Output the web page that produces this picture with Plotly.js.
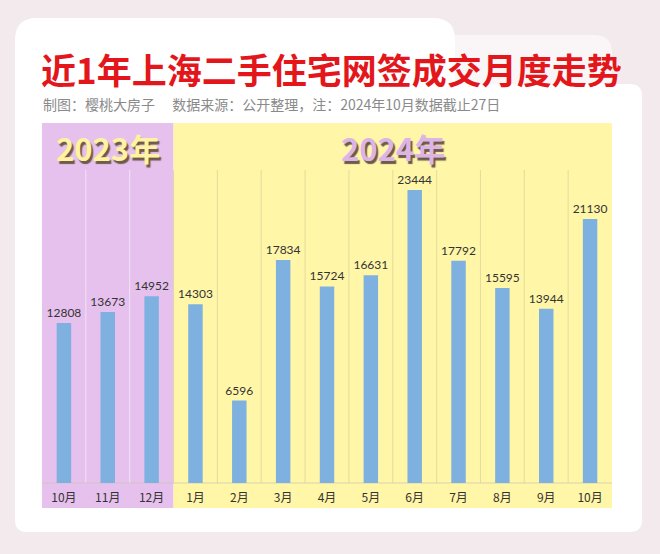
<!DOCTYPE html>
<html>
<head>
<meta charset="utf-8">
<script src="https://cdn.plot.ly/plotly-3.0.1.min.js"></script>
<style>
html,body{margin:0;padding:0;background:#f2eaec;}
#chart{width:660px;height:554px;}
</style>
</head>
<body>
<div id="chart"></div>
<script>
// ---- data ----
const months = ['10月','11月','12月','1月','2月','3月','4月','5月','6月','7月','8月','9月','10月'];
const monthKeys = ['2023-10','2023-11','2023-12','2024-01','2024-02','2024-03','2024-04','2024-05','2024-06','2024-07','2024-08','2024-09','2024-10'];
const deals = [12808, 13673, 14952, 14303, 6596, 17834, 15724, 16631, 23444, 17792, 15595, 13944, 21130];
const yearLabels = ['2023年', '2024年'];
const titleText = '近1年上海二手住宅网签成交月度走势';
const subtitleText = '制图：樱桃大房子　 数据来源：公开整理，注：2024年10月数据截止27日';

// ---- layout geometry (pixels) ----
const L = 42, T = 170, W = 570, H = 313;
const X = px => (px - L) / W;
const Y = py => (T + H - py) / H;
const colW = W / months.length;

function rr(x0, y0, x1, y1, r) {
  const p = (x, y) => X(x) + ',' + Y(y);
  return 'M' + p(x0 + r, y0) + ' L' + p(x1 - r, y0) + ' Q' + p(x1, y0) + ' ' + p(x1, y0 + r) +
    ' L' + p(x1, y1 - r) + ' Q' + p(x1, y1) + ' ' + p(x1 - r, y1) +
    ' L' + p(x0 + r, y1) + ' Q' + p(x0, y1) + ' ' + p(x0, y1 - r) +
    ' L' + p(x0, y0 + r) + ' Q' + p(x0, y0) + ' ' + p(x0 + r, y0) + ' Z';
}

const shapes = [];
// background cards
shapes.push({type:'path', xref:'paper', yref:'paper', path: rr(440, 35, 612, 120, 18), fillcolor:'#faf6f7', line:{width:0}, layer:'below'});
shapes.push({type:'path', xref:'paper', yref:'paper', path: rr(15, 18, 455, 200, 22), fillcolor:'#ffffff', line:{width:0}, layer:'below'});
shapes.push({type:'path', xref:'paper', yref:'paper', path: rr(15, 84, 642, 532, 12), fillcolor:'#ffffff', line:{width:0}, layer:'below'});
// year panels
const split = L + colW * 3;
shapes.push({type:'rect', xref:'paper', yref:'paper', x0: X(L), x1: X(split), y0: Y(508), y1: Y(123), fillcolor:'#e6c1ed', line:{width:0}, layer:'below'});
shapes.push({type:'rect', xref:'paper', yref:'paper', x0: X(split), x1: X(L + W), y0: Y(508), y1: Y(123), fillcolor:'#fff6a8', line:{width:0}, layer:'below'});
// column separators
for (let k = 1; k < months.length; k++) {
  const px = L + colW * k;
  shapes.push({type:'line', xref:'paper', yref:'paper', x0: X(px), x1: X(px), y0: 0, y1: 1,
    line:{color: k < 3 ? 'rgba(255,255,255,0.55)' : 'rgba(180,170,140,0.35)', width:1}, layer:'below'});
}
// baseline
shapes.push({type:'line', xref:'paper', yref:'paper', x0: 0, x1: 1, y0: 0, y1: 0, line:{color:'rgba(200,195,180,0.7)', width:1}, layer:'below'});

const annotations = [
  {xref:'paper', yref:'paper', x: X(39), y: Y(68), xanchor:'left', yanchor:'middle', showarrow:false,
   text:'<b>' + titleText + '</b>', font:{family:'Noto Sans CJK SC', size:35, color:'#e3161c'}},
  {xref:'paper', yref:'paper', x: X(41), y: Y(104), xanchor:'left', yanchor:'middle', showarrow:false,
   text: subtitleText, font:{family:'Noto Sans CJK SC', size:14, color:'#8a8a8a'}},
];
const yearPos = [[L + colW * 1.5, '#fff2a0'], [L + colW * 8, '#dcb5e6']];
yearLabels.forEach((t, i) => {
  const [cx, col] = yearPos[i];
  annotations.push({xref:'paper', yref:'paper', x: X(cx), y: Y(147), xanchor:'center', yanchor:'middle', showarrow:false,
    text:'<b>' + t + '</b>', font:{family:'Noto Sans CJK SC', size:31, color: col, shadow:'2px 3px 1px #6e5a4a'}});
});

const trace = {
  type:'bar',
  x: monthKeys,
  y: deals,
  width: 0.33,
  marker:{color:'#7eb0e0', line:{width:0}},
  text: deals.map(String),
  textposition:'outside',
  constraintext:'none',
  textfont:{family:'Lato, Carlito, sans-serif', size:12, color:'#333333'},
  cliponaxis:false,
  hoverinfo:'none'
};

const layout = {
  width:660, height:554,
  margin:{l:L, r:660 - L - W, t:T, b:554 - T - H, pad:0},
  paper_bgcolor:'#f2eaec',
  plot_bgcolor:'rgba(0,0,0,0)',
  showlegend:false,
  xaxis:{type:'category', tickvals: monthKeys, ticktext: months, range:[-0.5, months.length - 0.5],
    showgrid:false, zeroline:false, showline:false, ticks:'outside', ticklen:4, tickcolor:'rgba(0,0,0,0)',
    tickfont:{family:'Noto Sans CJK SC', size:12, color:'#333333'}, fixedrange:true},
  yaxis:{range:[0, 25045], visible:false, fixedrange:true},
  shapes: shapes,
  annotations: annotations,
  font:{family:'Noto Sans CJK SC'}
};

Plotly.newPlot('chart', [trace], layout, {displayModeBar:false, staticPlot:true});
</script>
</body>
</html>
